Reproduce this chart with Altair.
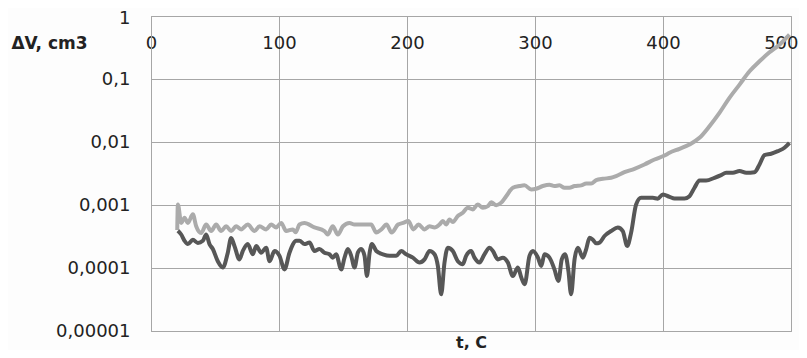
import altair as alt
import pandas as pd

# light grey series
light_t = [20.5, 21, 23.6, 26.2, 28.8, 32.7, 35.3, 39.2, 43.1, 47.0, 50.9, 54.8, 58.7, 62.6, 66.5,
           70.4, 75.6, 80.9, 84.8, 90, 93.9, 97.8, 101.7, 105.6, 110.8, 113, 116, 119.9, 127.7,
           135.5, 138, 142, 146, 150, 155, 159, 165, 172, 176, 180, 184, 188, 193, 197, 201, 205,
           209, 213.7, 217.6, 221.5, 225.4, 228, 230.6, 233.2, 235.8, 239.7, 243.6, 247.5, 251.4,
           255.3, 259.2, 263.2, 265.8, 269.7, 273.6, 277.5, 282.7, 287.9, 291.8, 297, 300.9,
           306.1, 311.3, 315.2, 319.1, 323, 326.9, 330.9, 336.1, 340, 343.9, 347.8, 353, 359.5,
           363.4, 369.9, 377.7, 385.5, 393.4, 401.2, 405.1, 412.9, 420.7, 428.5, 436.3, 444.1,
           451.9, 459.8, 467.6, 475.4, 483.2, 491, 498.8]
light_v = [0.0004, 0.00102, 0.00052, 0.00063, 0.00052, 0.00071, 0.00046, 0.00036, 0.00049, 0.000386,
           0.00049, 0.000386, 0.00046, 0.000386, 0.00046, 0.00041, 0.00049, 0.000386, 0.00046,
           0.00041, 0.00049, 0.00044, 0.00052, 0.000386, 0.00041, 0.00037, 0.00049, 0.00052,
           0.00044, 0.000386, 0.00034, 0.00046, 0.00034, 0.00046, 0.00052, 0.00049, 0.00049,
           0.00049, 0.000365, 0.00041, 0.00049, 0.000365, 0.00049, 0.00052, 0.000556, 0.00041,
           0.00049, 0.00041, 0.00046, 0.00044, 0.00049, 0.000556, 0.00049, 0.00059, 0.000536,
           0.000667, 0.000755, 0.000906, 0.00085, 0.00102, 0.000906, 0.00096, 0.00111, 0.00099,
           0.00109, 0.00138, 0.00188, 0.002, 0.00205, 0.00177, 0.00181, 0.002, 0.0021, 0.002,
           0.00205, 0.00188, 0.00188, 0.002, 0.00205, 0.0022, 0.0022, 0.00248, 0.00261, 0.0027,
           0.00287, 0.00332, 0.00376, 0.0044, 0.00528, 0.0061, 0.00674, 0.0078, 0.00912, 0.01164,
           0.0178, 0.029, 0.0502, 0.0815, 0.1325, 0.191, 0.265, 0.351, 0.505]

# dark grey series
dark_t = [21, 23.6, 26.2, 28.8, 32.7, 36.6, 40.5, 43.1, 45.7, 48.3, 52.2, 56.1, 60, 62.6, 65.2,
          69.1, 71.7, 75.6, 79.5, 82.2, 86.1, 90, 92.6, 96.5, 100.4, 104.3, 108.2, 113.5, 116,
          119.9, 123.8, 127.7, 131.6, 135.5, 139.4, 142, 144.6, 148.6, 151.2, 153.8, 156.4, 159,
          161.6, 164.2, 166.8, 168.7, 170.8, 172.6, 176, 181.2, 186.4, 191.6, 195.5, 199.4,
          204.6, 209.8, 213.7, 217.6, 221.5, 224.1, 226.7, 229.3, 231.9, 235.8, 239.7, 243.6,
          246.2, 250.1, 252.7, 256.6, 260.5, 264.5, 267.1, 271, 274.9, 278.8, 282.7, 286.6,
          289.3, 291.9, 295.7, 298.4, 302.3, 304.9, 307.4, 311.3, 315.2, 318.3, 320.9, 323.5,
          326.1, 328.2, 330.9, 333.5, 337.4, 340, 342.6, 345.2, 347.8, 350.4, 354.3, 359.5,
          364.7, 368.6, 372, 375.1, 379, 382.9, 388.1, 392, 395.9, 399.9, 405.1, 409, 416.8,
          420.7, 424.6, 428.5, 433.7, 440.2, 445.4, 449.3, 454.6, 459.8, 465, 471.5, 475.4,
          479.3, 484.5, 489.7, 494.9, 498.8]
dark_v = [0.00039, 0.00034, 0.00027, 0.00024, 0.00028, 0.00025, 0.00027, 0.00034, 0.00024, 0.0002,
          0.000128, 0.000102, 0.000175, 0.0003, 0.000224, 0.000137, 0.000186, 0.00024, 0.000165,
          0.000224, 0.000175, 0.00021, 0.000128, 0.000186, 0.000156, 0.000095, 0.000175,
          0.00027, 0.00027, 0.00024, 0.000253, 0.000186, 0.0002, 0.000175, 0.000165, 0.000146,
          0.000165, 0.000095, 0.000146, 0.0002, 0.000156, 0.000102, 0.000175, 0.0002, 0.000156,
          0.0000747, 0.000175, 0.00024, 0.000186, 0.000165, 0.000156, 0.000156, 0.000186,
          0.000165, 0.000146, 0.000122, 0.000137, 0.000186, 0.000165, 0.000108, 0.0000383,
          0.000122, 0.00021, 0.000186, 0.000128, 0.000115, 0.000156, 0.000186, 0.000146,
          0.000122, 0.000165, 0.00021, 0.000186, 0.000137, 0.000146, 0.000122, 0.0000747,
          0.000102, 0.0000705, 0.0000552, 0.000156, 0.000186, 0.000146, 0.000108, 0.000165,
          0.000146, 0.000095, 0.0000622, 0.000137, 0.000165, 0.0000896, 0.0000383, 0.000137,
          0.00021, 0.000146, 0.0002, 0.000303, 0.00028, 0.000246, 0.000253, 0.000322, 0.000386,
          0.00044, 0.000386, 0.000224, 0.000365, 0.00102, 0.0013, 0.0013, 0.0013, 0.00126,
          0.00147, 0.00135, 0.00127, 0.00127, 0.00138, 0.00188, 0.00245, 0.00245, 0.0027,
          0.00298, 0.00325, 0.00325, 0.00345, 0.00325, 0.00332, 0.0044, 0.00618, 0.0065,
          0.00715, 0.0081, 0.0097]

x_ticks = [0, 100, 200, 300, 400, 500]
y_ticks = [0.00001, 0.0001, 0.001, 0.01, 0.1, 1]
y_labels = ["0,00001", "0,0001", "0,001", "0,01", "0,1", "1"]

df = pd.concat([
    pd.DataFrame({"t": light_t, "v": light_v, "s": "light"}),
    pd.DataFrame({"t": dark_t, "v": dark_v, "s": "dark"}),
])

label_expr = ""
for val, lab in zip(y_ticks[::-1], y_labels[::-1]):
    label_expr += f"datum.value >= {val * 0.5} ? '{lab}' : "
label_expr += "''"

grid_color = "#a6a6a6"
font = "DejaVu Sans"
text_color = "#222222"
last_x = x_ticks[-1]
top_y = y_ticks[-1]

chart = alt.Chart(df).mark_line(strokeWidth=4, interpolate="monotone").encode(
    x=alt.X("t:Q", scale=alt.Scale(domain=[0, 500], nice=False, zero=False),
            axis=alt.Axis(orient="top", values=x_ticks, grid=True, gridColor=grid_color,
                          domain=False, ticks=False, labelPadding=-27,
                          labelBaseline="middle", labelFontSize=18, labelFont=font,
                          labelColor=text_color, labelFlush=False,
                          labelAlign={"condition": {"test": f"datum.value == {last_x}",
                                                    "value": "right"},
                                      "value": "center"},
                          labelOffset={"condition": {"test": f"datum.value == {last_x}",
                                                     "value": 7},
                                       "value": 0},
                          title="t, C", titleFont=font, titleFontSize=16,
                          titleFontWeight="bold", titleColor=text_color,
                          titleX=320, titleY=331, titleBaseline="alphabetic",
                          titleAlign="center", titleAnchor="middle")),
    y=alt.Y("v:Q", scale=alt.Scale(type="log", domain=[0.00001, 1], nice=False),
            axis=alt.Axis(values=y_ticks, grid=True, gridColor=grid_color,
                          domain=True, domainColor=grid_color, ticks=False,
                          labelPadding=21, labelFontSize=18, labelFont=font,
                          labelColor=text_color, labelExpr=label_expr, labelFlush=False,
                          labelOffset={"condition": {"test": f"datum.value >= {top_y * 0.5}",
                                                     "value": 2},
                                       "value": 0},
                          title="ΔV, cm3", titleFont=font, titleFontSize=17,
                          titleFontWeight="bold", titleColor=text_color, titleAngle=0,
                          titleX=-102, titleY=27, titleAlign="center",
                          titleBaseline="middle")),
    color=alt.Color("s:N", scale=alt.Scale(domain=["light", "dark"],
                                           range=["#ababab", "#575757"]), legend=None),
    order=alt.Order("t:Q"),
).properties(
    width=640, height=315,
    autosize=alt.AutoSizeParams(type="none"),
    padding={"left": 143, "top": 8, "right": 8, "bottom": 19},
    background="#fdfdfd",
).configure_view(stroke=grid_color, strokeWidth=1)

chart.save("out.html", embed_options={"renderer": "svg", "actions": False})
